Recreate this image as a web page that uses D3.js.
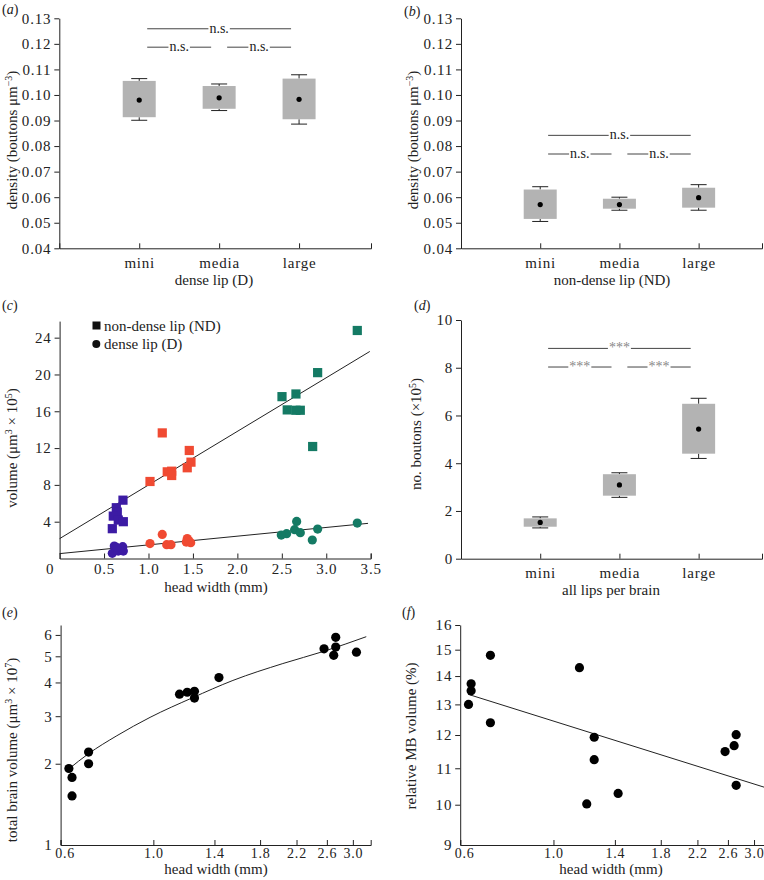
<!DOCTYPE html>
<html>
<head>
<meta charset="utf-8">
<script src="https://cdn.jsdelivr.net/npm/d3@7"></script>
<style>
  body { margin: 0; background: #fff; }
  text { font-family: "Liberation Serif", "Times New Roman", serif; fill: #222; }
</style>
</head>
<body>
<div id="chart"></div>
<script>
// Size classes used by the box panels.
const sizeClasses = ["mini", "media", "large"];

// Box values: [whisker low, box low, mean, box high, whisker high].
const denseLipBoxes = [
  [0.0901, 0.0913, 0.0980, 0.1055, 0.1064],
  [0.0939, 0.0946, 0.0989, 0.1035, 0.1043],
  [0.0886, 0.0905, 0.0983, 0.1064, 0.1079]
];
const nonDenseLipBoxes = [
  [0.0505, 0.0515, 0.0571, 0.0630, 0.0641],
  [0.0549, 0.0555, 0.0571, 0.0594, 0.0600],
  [0.0549, 0.0559, 0.0598, 0.0637, 0.0649]
];
const allLipsBoxes = [
  [1.29, 1.34, 1.52, 1.69, 1.75],
  [2.57, 2.64, 3.09, 3.54, 3.60],
  [4.20, 4.40, 5.43, 6.49, 6.72]
];

// Significance brackets: [from class, to class, level, label].
const denseSig = [[1.1, 2.9, 0.1259, "n.s."], [1.1, 1.9, 0.1187, "n.s."], [2.1, 2.9, 0.1187, "n.s."]];
const nonDenseSig = [[1.1, 2.9, 0.0842, "n.s."], [1.1, 1.9, 0.0769, "n.s."], [2.1, 2.9, 0.0769, "n.s."]];
const allLipsSig = [[1.1, 2.9, 8.81, "***"], [1.1, 1.9, 8.03, "***"], [2.1, 2.9, 8.03, "***"]];

// Panel c: [head width (mm), volume (x10^5 um^3)].
const ndMini = [[0.713, 6.34], [0.638, 5.52], [0.649, 5.04], [0.604, 4.61], [0.66, 4.18], [0.717, 4.0], [0.593, 3.24]];
const ndMedia = [[1.155, 13.65], [1.459, 11.74], [1.478, 10.47], [1.436, 9.86], [1.211, 9.42], [1.261, 9.49], [1.261, 9.02], [1.017, 8.37]];
const ndLarge = [[3.349, 24.78], [2.903, 20.2], [2.502, 17.59], [2.659, 17.88], [2.561, 16.15], [2.659, 16.11], [2.708, 16.11], [2.847, 12.17]];
const dMini = [[0.593, 0.56], [0.615, 1.36], [0.634, 1.0], [0.66, 0.81], [0.71, 1.29], [0.717, 0.81], [0.64, 1.2]];
const dMedia = [[1.017, 1.62], [1.155, 2.62], [1.205, 1.5], [1.253, 1.5], [1.436, 2.16], [1.425, 1.79], [1.475, 1.72], [1.45, 1.95]];
const dLarge = [[2.667, 4.03], [3.349, 3.85], [2.903, 3.2], [2.644, 3.13], [2.708, 2.81], [2.554, 2.70], [2.494, 2.55], [2.843, 2.01]];
const ndFit = [[0, 2.16], [3.49, 22.5]];
const dFit = [[0, 0.53], [3.47, 3.82]];
const classColors = ["#3c1ba4", "#f04a32", "#147a64"];

// Panel e: total brain volume (x10^7 um^3).
const brainHeadWidth = [0.628, 0.639, 0.639, 0.70, 0.70, 1.155, 1.205, 1.254, 1.254, 1.435, 2.56, 2.70, 2.73, 2.73, 3.06];
const brainVolume = [1.92, 1.78, 1.52, 2.21, 2.0, 3.62, 3.68, 3.71, 3.50, 4.17, 5.33, 5.04, 5.41, 5.88, 5.18];
const brainFit = [[0.626, 1.906], [0.70, 2.18], [0.818, 2.54], [0.982, 2.97], [1.24, 3.51], [1.55, 4.07], [2.04, 4.70], [2.56, 5.22], [3.23, 5.91]];

// Panel f: relative MB volume (%).
const mbHeadWidth = [0.628, 0.637, 0.637, 0.708, 0.708, 1.153, 1.25, 1.25, 1.20, 1.425, 2.56, 2.69, 2.72, 2.72];
const mbRelVolume = [13.0, 13.72, 13.47, 14.78, 12.39, 14.31, 11.93, 11.25, 10.02, 10.30, 11.49, 11.67, 12.01, 10.52];
const mbFit = [[0.626, 13.35], [3.21, 10.45]];

const headTicks = [0.6, 1.0, 1.4, 1.8, 2.2, 2.6, 3.0];

const svg = d3.select("#chart")
  .append("svg")
    .attr("width", 764)
    .attr("height", 880);

// Axis styling shared by all panels.
function styleAxis(g, size) {
  g.selectAll("path, line").attr("stroke", "#222").attr("stroke-width", 1);
  g.selectAll("text")
    .style("font-family", "Liberation Serif, serif")
    .style("font-size", (size || 15) + "px")
    .style("letter-spacing", "0.8px")
    .attr("fill", "#222");
}

function panelLetter(x, y, letter) {
  const t = svg.append("text").attr("x", x).attr("y", y).style("font-size", "14px");
  t.append("tspan").text("(");
  t.append("tspan").style("font-style", "italic").text(letter);
  t.append("tspan").text(")");
}

// Rotated y label with optional superscripts: parts = [[text, isSup], ...]
function yLabel(x, y, parts) {
  const t = svg.append("text")
    .attr("transform", "translate(" + x + "," + y + ") rotate(-90)")
    .attr("text-anchor", "middle")
    .style("font-size", "15px");
  parts.forEach(p => {
    const s = t.append("tspan").text(p[0]);
    if (p[1]) s.attr("baseline-shift", "super").style("font-size", "10px");
  });
}

function xLabel(x, y, txt) {
  svg.append("text").attr("x", x).attr("y", y).attr("text-anchor", "middle")
    .style("font-size", "15px").text(txt);
}

function drawBoxPanel(p) {
  const x = d3.scaleLinear().domain([0, p.xEnd]).range([p.left, p.right]);
  const y = d3.scaleLinear().domain(p.yDomain).range([p.bottom, p.top]);
  const g = svg.append("g");

  g.append("g")
    .attr("transform", "translate(0," + p.bottom + ")")
    .call(d3.axisBottom(x).tickValues([1, 2, 3]).tickFormat((d, i) => sizeClasses[i]).tickSize(-5).tickPadding(9))
    .call(styleAxis);

  g.append("g")
    .attr("transform", "translate(" + p.left + ",0)")
    .call(d3.axisLeft(y).tickValues(p.yTicks).tickFormat(p.yFormat).tickSize(5).tickSizeOuter(0).tickPadding(3))
    .call(styleAxis);

  const boxW = 33, capW = 16;
  p.boxes.forEach((b, i) => {
    const cx = x(i + 1);
    const bg = g.append("g");
    bg.append("line").attr("x1", cx).attr("x2", cx).attr("y1", y(b[0])).attr("y2", y(b[1])).attr("stroke", "#222");
    bg.append("line").attr("x1", cx).attr("x2", cx).attr("y1", y(b[3])).attr("y2", y(b[4])).attr("stroke", "#222");
    bg.append("line").attr("x1", cx - capW / 2).attr("x2", cx + capW / 2).attr("y1", y(b[0])).attr("y2", y(b[0])).attr("stroke", "#222");
    bg.append("line").attr("x1", cx - capW / 2).attr("x2", cx + capW / 2).attr("y1", y(b[4])).attr("y2", y(b[4])).attr("stroke", "#222");
    bg.append("rect")
      .attr("x", cx - boxW / 2).attr("width", boxW)
      .attr("y", y(b[3])).attr("height", y(b[1]) - y(b[3]))
      .attr("fill", "#b3b3b3");
    bg.append("circle").attr("cx", cx).attr("cy", y(b[2])).attr("r", 2.6).attr("fill", "#000");
  });

  // Significance brackets, line broken around the label.
  p.sig.forEach(s => {
    const x1 = x(s[0]), x2 = x(s[1]), yy = y(s[2]), mid = (x1 + x2) / 2;
    const t = g.append("text")
      .attr("x", mid).attr("y", yy + 4)
      .attr("text-anchor", "middle")
      .style("font-size", "14px")
      .style("fill", p.sigColor)
      .text(s[3]);
    const w = t.node().getComputedTextLength() / 2 + 1;
    g.append("line").attr("x1", x1).attr("x2", mid - w).attr("y1", yy).attr("y2", yy).attr("stroke", "#444");
    g.append("line").attr("x1", mid + w).attr("x2", x2).attr("y1", yy).attr("y2", yy).attr("stroke", "#444");
  });
}

// (a) dense lip density
drawBoxPanel({
  left: 59.3, right: 371, xEnd: 3.9, top: 18.3, bottom: 248.3,
  yDomain: [0.04, 0.13], yTicks: d3.range(0.04, 0.1301, 0.01), yFormat: d3.format(".2f"),
  boxes: denseLipBoxes, sig: denseSig, sigColor: "#222"
});
panelLetter(2, 14, "a");
yLabel(17, 140, [["density (boutons μm"], ["−3", true], [")"]]);
xLabel(214, 285, "dense lip (D)");

// (b) non-dense lip density
drawBoxPanel({
  left: 461, right: 762, xEnd: 3.8, top: 18.3, bottom: 248.3,
  yDomain: [0.04, 0.13], yTicks: d3.range(0.04, 0.1301, 0.01), yFormat: d3.format(".2f"),
  boxes: nonDenseLipBoxes, sig: nonDenseSig, sigColor: "#222"
});
panelLetter(404, 16, "b");
yLabel(418, 140, [["density (boutons μm"], ["−3", true], [")"]]);
xLabel(612, 285, "non-dense lip (ND)");

// (d) all lips per brain
drawBoxPanel({
  left: 461, right: 762, xEnd: 3.8, top: 320, bottom: 558.7,
  yDomain: [0, 10], yTicks: [0, 2, 4, 6, 8, 10], yFormat: d3.format("d"),
  boxes: allLipsBoxes, sig: allLipsSig, sigColor: "#888"
});
panelLetter(414, 310, "d");
yLabel(421, 434, [["no. boutons (×10"], ["5", true], [")"]]);
xLabel(611, 595, "all lips per brain");

// (c) lip volume vs head width
(function () {
  const x = d3.scaleLinear().domain([0, 3.5]).range([59.6, 370.7]);
  const y = d3.scaleLinear().domain([0, 25.8]).range([558.5, 321.1]);

  svg.append("g")
    .attr("transform", "translate(0,558.5)")
    .call(d3.axisBottom(x).tickValues(d3.range(0, 3.51, 0.5)).tickFormat(d => d === 0 ? "0" : d3.format(".1f")(d)).tickSize(-5).tickPadding(5))
    .call(styleAxis)
    .call(g => g.selectAll(".tick").filter(d => d === 0).select("text").attr("dx", -10))
    .call(g => g.selectAll(".tick").filter(d => d === 0).select("line").remove());

  svg.append("g")
    .attr("transform", "translate(59.6,0)")
    .call(d3.axisLeft(y).tickValues([4, 8, 12, 16, 20, 24]).tickSize(5).tickSizeOuter(0).tickPadding(3))
    .call(styleAxis);

  const line = d3.line().x(d => x(d[0])).y(d => y(d[1]));
  svg.append("path").datum(ndFit).attr("d", line).attr("stroke", "#222").attr("fill", "none").attr("stroke-width", 1);
  svg.append("path").datum(dFit).attr("d", line).attr("stroke", "#222").attr("fill", "none").attr("stroke-width", 1);

  [dMini, dMedia, dLarge].forEach((pts, i) => {
    svg.append("g").selectAll("circle").data(pts).join("circle")
      .attr("cx", d => x(d[0])).attr("cy", d => y(d[1])).attr("r", 4.6)
      .attr("fill", classColors[i]);
  });
  [ndMini, ndMedia, ndLarge].forEach((pts, i) => {
    svg.append("g").selectAll("rect").data(pts).join("rect")
      .attr("x", d => x(d[0]) - 4.6).attr("y", d => y(d[1]) - 4.6)
      .attr("width", 9.2).attr("height", 9.2)
      .attr("fill", classColors[i]);
  });

  // Legend.
  svg.append("rect").attr("x", 92.5).attr("y", 321.5).attr("width", 8).attr("height", 8).attr("fill", "#111");
  svg.append("text").attr("x", 104).attr("y", 330.5).style("font-size", "15px").text("non-dense lip (ND)");
  svg.append("circle").attr("cx", 96.3).attr("cy", 344).attr("r", 4).attr("fill", "#111");
  svg.append("text").attr("x", 104).attr("y", 349).style("font-size", "15px").text("dense lip (D)");
})();
panelLetter(2, 310, "c");
yLabel(17, 448, [["volume (μm"], ["3", true], [" × 10"], ["5", true], [")"]]);
xLabel(216, 592, "head width (mm)");

// (e) total brain volume, log-log
(function () {
  const x = d3.scaleLog().domain([0.6, 3.31]).range([60.6, 370.7]);
  const y = d3.scaleLog().domain([1, 6.53]).range([845, 625]);

  svg.append("g")
    .attr("transform", "translate(0,845)")
    .call(d3.axisBottom(x).tickValues(headTicks).tickFormat(d3.format(".1f")).tickSize(-5).tickPadding(3))
    .call(g => styleAxis(g, 14))
    .call(g => g.selectAll(".tick").filter(d => d === 0.6).select("text").attr("dx", 4));

  svg.append("g")
    .attr("transform", "translate(60.6,0)")
    .call(d3.axisLeft(y).tickValues([1, 2, 3, 4, 5, 6]).tickFormat(d3.format("d")).tickSize(5).tickSizeOuter(0).tickPadding(3))
    .call(styleAxis)
    .call(g => g.selectAll(".tick").filter(d => d === 1).select("line").remove());

  svg.append("path").datum(brainFit)
    .attr("d", d3.line().x(d => x(d[0])).y(d => y(d[1])).curve(d3.curveMonotoneX))
    .attr("stroke", "#222").attr("fill", "none").attr("stroke-width", 1);

  svg.append("g").selectAll("circle").data(brainHeadWidth).join("circle")
    .attr("cx", d => x(d)).attr("cy", (d, i) => y(brainVolume[i])).attr("r", 4.6)
    .attr("fill", "#000");
})();
panelLetter(2, 617, "e");
yLabel(17, 750, [["total brain volume (μm"], ["3", true], [" × 10"], ["7", true], [")"]]);
xLabel(216, 874, "head width (mm)");

// (f) relative MB volume, log-log
(function () {
  const x = d3.scaleLog().domain([0.6, 3.31]).range([460.2, 772]);
  const y = d3.scaleLog().domain([9, 16]).range([845, 625]);

  svg.append("g")
    .attr("transform", "translate(0,845)")
    .call(d3.axisBottom(x).tickValues(headTicks).tickFormat(d3.format(".1f")).tickSize(-5).tickPadding(3))
    .call(g => styleAxis(g, 14))
    .call(g => g.selectAll(".tick").filter(d => d === 0.6).select("text").attr("dx", 4));

  svg.append("g")
    .attr("transform", "translate(460.2,0)")
    .call(d3.axisLeft(y).tickValues(d3.range(9, 17)).tickFormat(d3.format("d")).tickSize(5).tickSizeOuter(0).tickPadding(3))
    .call(styleAxis)
    .call(g => g.selectAll(".tick").filter(d => d === 9).select("line").remove());

  svg.append("path").datum(mbFit)
    .attr("d", d3.line().x(d => x(d[0])).y(d => y(d[1])))
    .attr("stroke", "#222").attr("fill", "none").attr("stroke-width", 1);

  svg.append("g").selectAll("circle").data(mbHeadWidth).join("circle")
    .attr("cx", d => x(d)).attr("cy", (d, i) => y(mbRelVolume[i])).attr("r", 4.6)
    .attr("fill", "#000");
})();
panelLetter(402, 617, "f");
yLabel(416, 736, [["relative MB volume (%)"]]);
xLabel(611, 874, "head width (mm)");
</script>
</body>
</html>
